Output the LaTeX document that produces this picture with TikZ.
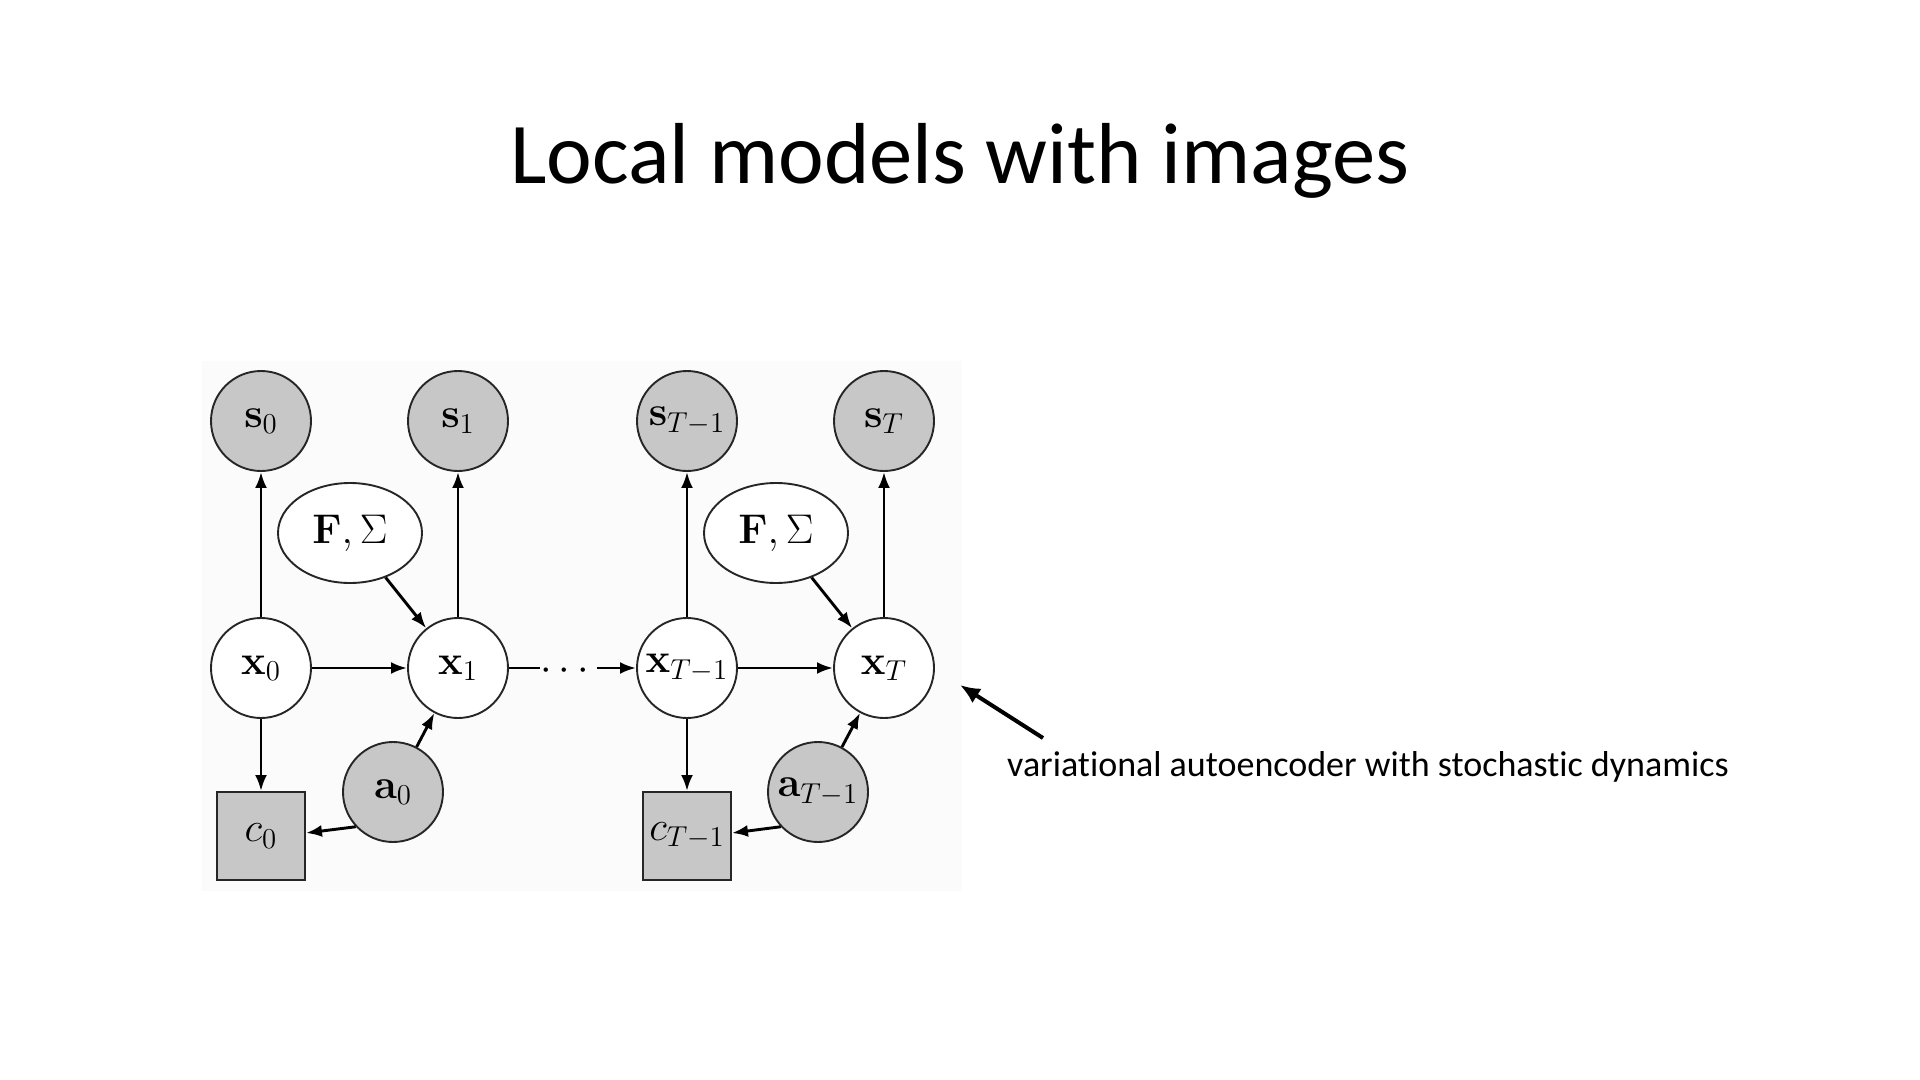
\documentclass[tikz,border=0pt]{standalone}
\usepackage[no-math]{fontspec}
\setmainfont{Carlito}[Ligatures=NoCommon]
\usepackage{amsmath}
\usetikzlibrary{arrows.meta,shapes.geometric}
\begin{document}
\begin{tikzpicture}[x=0.5pt,y=-0.5pt,
  every node/.style={font=\fontsize{20}{24}\selectfont},
  obs/.style={circle,draw=black!85,line width=0.95pt,fill=black!22,minimum size=50pt,inner sep=0pt},
  lat/.style={circle,draw=black!85,line width=0.95pt,fill=white,minimum size=50pt,inner sep=0pt},
  par/.style={ellipse,draw=black!85,line width=0.95pt,fill=white,minimum width=72pt,minimum height=50pt,inner sep=0pt},
  cost/.style={rectangle,draw=black!85,line width=0.95pt,fill=black!22,minimum size=44pt,inner sep=0pt},
  edge/.style={-{Latex[length=8pt,width=6pt]},line width=1.45pt},
  plain/.style={line width=1.45pt},
  callout/.style={-{Latex[length=10pt,width=8.5pt]},line width=2pt}]
\path[use as bounding box,fill=white] (0,0) rectangle (1920,1080);
\fill[black!1.5] (202,361) rectangle (962,891);
% title
\node[anchor=base,font=\fontsize{43.3}{52}\selectfont] (title) at (960,184) {Local models with images};
% nodes
\node[obs] (s0) at (261,421) {$\mathbf{s}_0$};
\node[obs] (s1) at (458,421) {$\mathbf{s}_1$};
\node[obs] (sT1) at (687,421) {$\mathbf{s}_{T-1}$};
\node[obs] (sT) at (884,421) {$\mathbf{s}_T$};
\node[par] (F1) at (350,533) {$\mathbf{F},\Sigma$};
\node[par] (F2) at (776,533) {$\mathbf{F},\Sigma$};
\node[lat] (x0) at (261,668) {$\mathbf{x}_0$};
\node[lat] (x1) at (458,668) {$\mathbf{x}_1$};
\node[lat] (xT1) at (687,668) {$\mathbf{x}_{T-1}$};
\node[lat] (xT) at (884,668) {$\mathbf{x}_T$};
\node[obs] (a0) at (393,792) {$\mathbf{a}_0$};
\node[obs] (aT1) at (818,792) {$\mathbf{a}_{T-1}$};
\node[cost] (c0) at (261,836) {$c_0$};
\node[cost] (cT1) at (687,836) {$c_{T-1}$};
\coordinate (d1) at (540,668);
\coordinate (d2) at (597,668);
\node[inner sep=0pt] (dots) at (568,671) {$\cdots$};
% edges
\draw[edge] (x0) -- (s0);
\draw[edge] (x1) -- (s1);
\draw[edge] (xT1) -- (sT1);
\draw[edge] (xT) -- (sT);
\draw[edge] (F1) -- (x1);
\draw[edge] (F2) -- (xT);
\draw[edge] (x0) -- (x1);
\draw[plain] (x1) -- (d1);
\draw[edge] (d2) -- (xT1);
\draw[edge] (xT1) -- (xT);
\draw[edge] (x0) -- (c0);
\draw[edge] (xT1) -- (cT1);
\draw[edge] (a0) -- (x1);
\draw[edge] (aT1) -- (xT);
\draw[edge] (a0.223) -- ([yshift=1.5pt]c0.east);
\draw[edge] (aT1.223) -- ([yshift=1.5pt]cT1.east);
% annotation
\node[anchor=base,font=\fontsize{18}{22}\selectfont] (note) at (1368,776) {variational autoencoder with stochastic dynamics};
\coordinate (tail) at (1043,738);
\coordinate (tip) at (960,685);
\draw[callout] (tail) -- (tip);
\end{tikzpicture}
\end{document}
